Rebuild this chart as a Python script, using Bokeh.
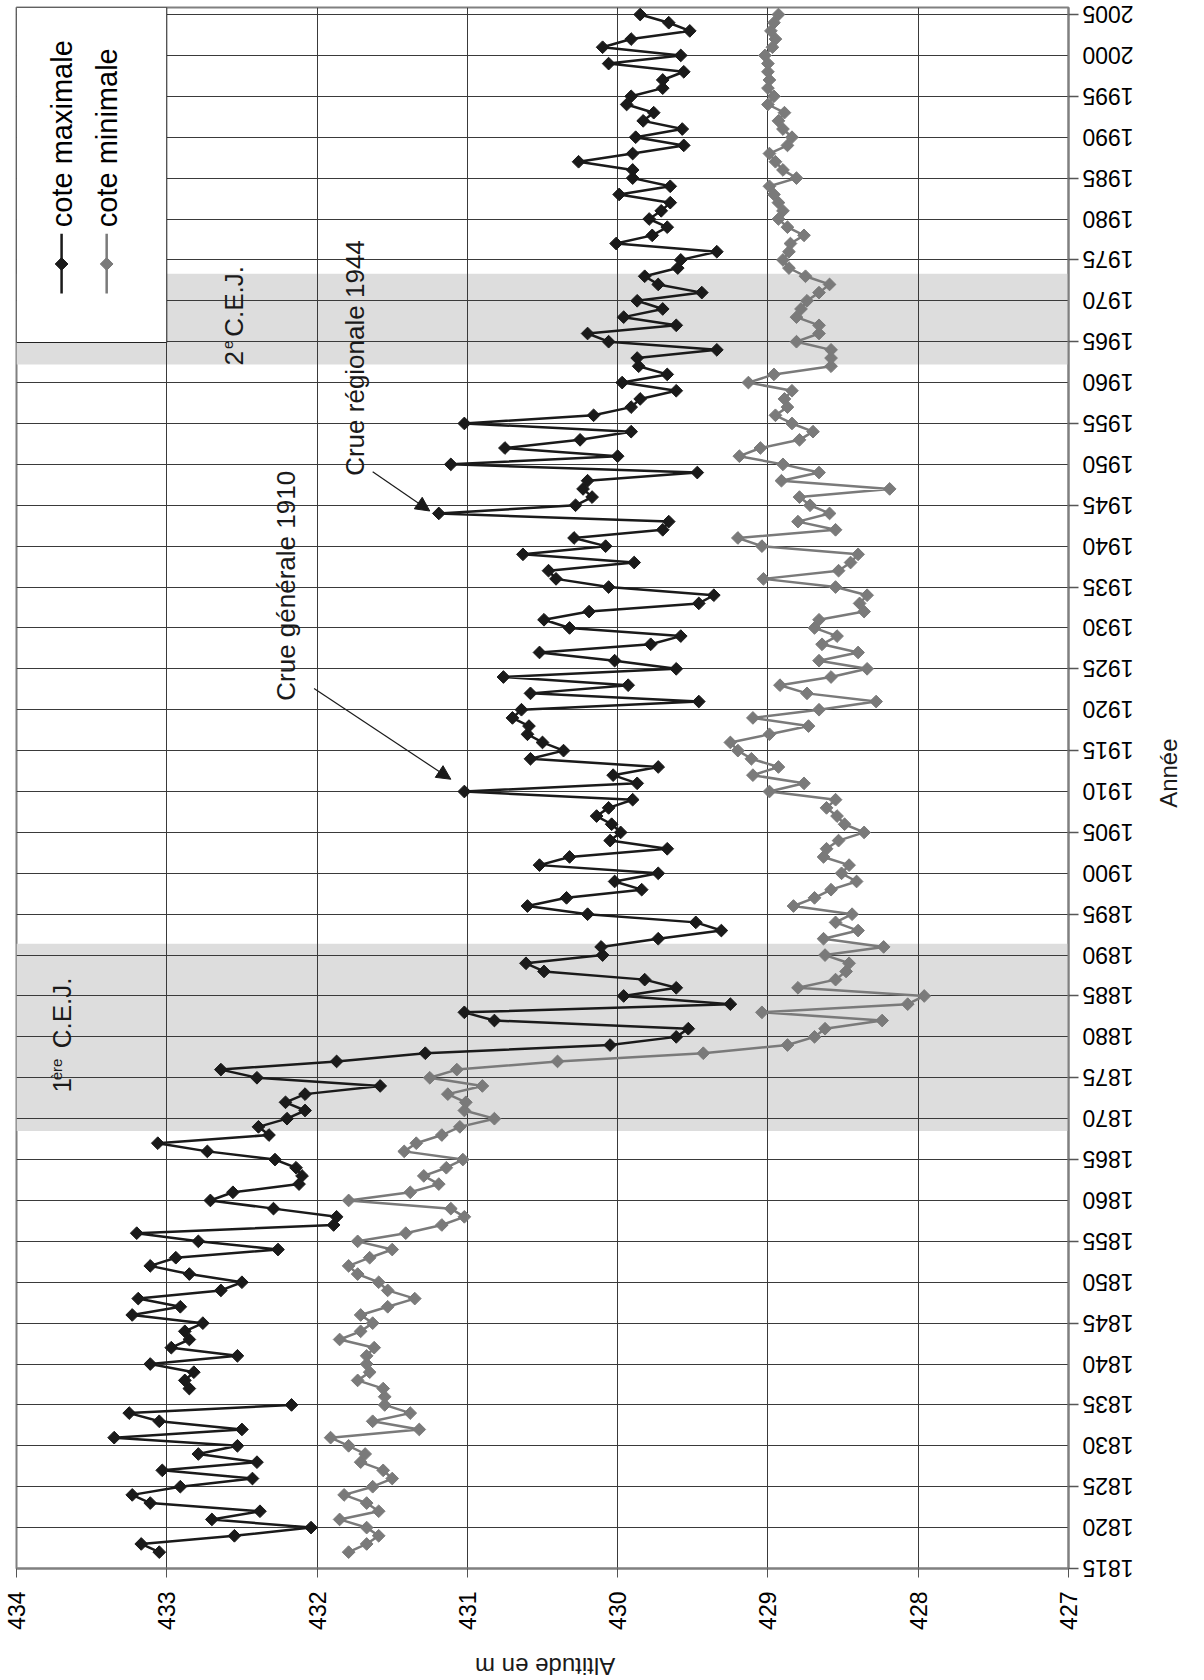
import math
import numpy as np
from bokeh.plotting import figure
from bokeh.layouts import column
from bokeh.models import Range1d, FixedTicker, Label, Arrow, NormalHead, LinearAxis
from bokeh.embed import file_html
from bokeh.resources import INLINE

# ---------------- data ----------------
years = list(range(1817, 2006))

cote_max = [
    433.05, 433.17, 432.55, 432.04, 432.70, 432.38, 433.11, 433.23, 432.91, 432.43,  # 1817-1826
    433.03, 432.40, 432.79, 432.53, 433.35, 432.50, 433.05, 433.25, 432.17, np.nan,  # 1827-1836
    432.85, 432.88, 432.82, 433.11, 432.53, 432.97, 432.85, 432.88, 432.76, 433.23,  # 1837-1846
    432.91, 433.19, 432.64, 432.50, 432.85, 433.11, 432.94, 432.26, 432.79, 433.20,  # 1847-1856
    431.89, 431.87, 432.29, 432.71, 432.56, 432.12, 432.10, 432.14, 432.28, 432.73,  # 1857-1866
    433.06, 432.32, 432.39, 432.20, 432.08, 432.21, 432.08, 431.58, 432.40, 432.64,  # 1867-1876
    431.87, 431.28, 430.05, 429.61, 429.53, 430.82, 431.02, 429.25, 429.96, 429.61,  # 1877-1886
    429.82, 430.49, 430.61, 430.10, 430.11, 429.73, 429.31, 429.48, 430.20, 430.60,  # 1887-1896
    430.34, 429.84, 430.02, 429.73, 430.52, 430.32, 429.67, 430.05, 429.98, 430.04,  # 1897-1906
    430.14, 430.06, 429.90, 431.02, 429.87, 430.03, 429.73, 430.58, 430.36, 430.50,  # 1907-1916
    430.60, 430.59, 430.70, 430.64, 429.46, 430.58, 429.93, 430.76, 429.61, 430.02,  # 1917-1926
    430.52, 429.78, 429.58, 430.32, 430.49, 430.19, 429.46, 429.36, 430.06, 430.41,  # 1927-1936
    430.46, 429.89, 430.63, 430.08, 430.29, 429.70, 429.66, 431.19, 430.28, 430.17,  # 1937-1946
    430.23, 430.20, 429.47, 431.11, 430.00, 430.75, 430.25, 429.91, 431.02, 430.16,  # 1947-1956
    429.91, 429.85, 429.61, 429.97, 429.67, 429.86, 429.87, 429.34, 430.06, 430.20,  # 1957-1966
    429.61, 429.96, 429.70, 429.87, 429.44, 429.73, 429.82, 429.60, 429.58, 429.34,  # 1967-1976
    430.01, 429.77, 429.67, 429.79, 429.71, 429.65, 429.99, 429.65, 429.90, 429.90,  # 1977-1986
    430.26, 429.90, 429.56, 429.88, 429.57, 429.83, 429.76, 429.94, 429.91, 429.70,  # 1987-1996
    429.70, 429.56, 430.06, 429.58, 430.10, 429.91, 429.52, 429.66, 429.85,          # 1997-2005
]

cote_min = [
    431.79, 431.67, 431.59, 431.67, 431.85, 431.59, 431.67, 431.82, 431.63, 431.50,  # 1817-1826
    431.56, 431.71, 431.68, 431.79, 431.91, 431.32, 431.63, 431.38, 431.55, 431.55,  # 1827-1836
    431.56, 431.73, 431.65, 431.67, 431.67, 431.62, 431.85, 431.71, 431.63, 431.71,  # 1837-1846
    431.53, 431.35, 431.53, 431.59, 431.73, 431.79, 431.65, 431.50, 431.73, 431.41,  # 1847-1856
    431.17, 431.02, 431.11, 431.79, 431.38, 431.19, 431.29, 431.14, 431.03, 431.42,  # 1857-1866
    431.34, 431.17, 431.05, 430.82, 431.02, 431.01, 431.13, 430.90, 431.25, 431.07,  # 1867-1876
    430.40, 429.43, 428.87, 428.69, 428.62, 428.24, 429.04, 428.07, 427.96, 428.80,  # 1877-1886
    428.55, 428.48, 428.46, 428.62, 428.23, 428.63, 428.40, 428.55, 428.44, 428.83,  # 1887-1896
    428.69, 428.58, 428.41, 428.51, 428.46, 428.63, 428.61, 428.53, 428.36, 428.49,  # 1897-1906
    428.54, 428.61, 428.55, 428.99, 428.76, 429.10, 428.93, 429.11, 429.20, 429.25,  # 1907-1916
    428.99, 428.73, 429.10, 428.66, 428.28, 428.74, 428.92, 428.58, 428.34, 428.66,  # 1917-1926
    428.40, 428.64, 428.54, 428.69, 428.66, 428.36, 428.39, 428.34, 428.55, 429.03,  # 1927-1936
    428.53, 428.45, 428.40, 429.04, 429.20, 428.55, 428.80, 428.59, 428.72, 428.79,  # 1937-1946
    428.19, 428.91, 428.66, 428.90, 429.19, 429.05, 428.79, 428.70, 428.84, 428.95,  # 1947-1956
    428.87, 428.89, 428.84, 429.13, 428.96, 428.58, 428.58, 428.58, 428.81, 428.66,  # 1957-1966
    428.66, 428.81, 428.78, 428.74, 428.66, 428.59, 428.75, 428.86, 428.90, 428.86,  # 1967-1976
    428.85, 428.76, 428.87, 428.93, 428.90, 428.93, 428.96, 428.99, 428.81, 428.90,  # 1977-1986
    428.95, 428.99, 428.87, 428.84, 428.90, 428.93, 428.89, 429.00, 428.96, 429.00,  # 1987-1996
    428.99, 429.00, 429.00, 429.02, 428.97, 428.95, 428.98, 428.96, 428.93,          # 1997-2005
]

altitude_ticks = [427, 428, 429, 430, 431, 432, 433, 434]
year_label_ticks = list(range(1815, 2006, 5))
year_tick_marks = list(range(1815, 2006, 10))

cej_start = [1868.5, 1962.2]
cej_end = [1891.4, 1973.3]

FONT = "Liberation Sans"
BLACK = "#1a1a1a"
GREY = "#7a7a7a"
Y_TOP = 2005.86

# ---------------- main figure ----------------
p = figure(
    width=1200, height=1638,
    x_range=Range1d(434, 427), y_range=Range1d(1815, Y_TOP),
    y_axis_location="right",
    output_backend="svg", toolbar_location=None,
    min_border_left=16, min_border_right=132, min_border_top=7, min_border_bottom=70,
)
p.background_fill_color = "white"
p.border_fill_color = "white"
p.outline_line_color = "#808080"
p.outline_line_width = 2

# grey bands (C.E.J. periods) below the grid
p.quad(left=434, right=427, bottom=cej_start, top=cej_end,
       fill_color="#dddddd", line_color=None, level="image")

# bottom axis: altitude
p.xaxis.ticker = FixedTicker(ticks=altitude_ticks)
p.xaxis.major_label_orientation = math.pi / 2
p.xaxis.major_tick_out = 9
p.xaxis.major_tick_in = 0
p.xaxis.major_label_standoff = 14
p.xaxis.axis_line_color = "#808080"
p.xaxis.axis_line_width = 2
p.xaxis.major_tick_line_color = "#555555"
p.xaxis.major_label_text_font = FONT
p.xaxis.major_label_text_font_size = "23px"
p.xaxis.major_label_text_color = "black"

# right axis: years (labels upside down)
p.yaxis.ticker = FixedTicker(ticks=year_label_ticks, minor_ticks=year_tick_marks)
p.yaxis.major_label_orientation = math.pi
p.yaxis.major_tick_out = 0
p.yaxis.major_tick_in = 0
p.yaxis.minor_tick_out = 10
p.yaxis.minor_tick_in = 0
p.yaxis.minor_tick_line_color = "#555555"
p.yaxis.minor_tick_line_width = 1.5
p.yaxis.major_label_standoff = 55
p.yaxis.axis_line_color = "#808080"
p.yaxis.axis_line_width = 2
p.yaxis.major_label_text_font = FONT
p.yaxis.major_label_text_font_size = "23px"
p.yaxis.major_label_text_color = "black"

# axis title "Année" (second right axis carrying a single label)
annee_axis = LinearAxis(
    ticker=FixedTicker(ticks=[1908]),
    major_label_overrides={1908: "Année"},
    major_label_orientation=math.pi / 2,
    axis_line_color=None, major_tick_line_color=None, minor_tick_line_color=None,
    major_label_text_font=FONT, major_label_text_font_size="24px",
    major_label_text_color="#1a1a1a",
)
try:
    annee_axis.major_label_standoff = -25
except ValueError:
    annee_axis.major_label_standoff = 0
p.add_layout(annee_axis, "right")

p.xgrid.grid_line_color = "#3a3a3a"
p.xgrid.grid_line_width = 1
p.ygrid.grid_line_color = "#3a3a3a"
p.ygrid.grid_line_width = 1

# series (x = altitude, y = year)
p.line(cote_max, years, line_color=BLACK, line_width=2.5)
p.scatter(cote_max, years, marker="square", angle=math.pi / 4, size=9,
          fill_color=BLACK, line_color=BLACK)
p.line(cote_min, years, line_color=GREY, line_width=2.5)
p.scatter(cote_min, years, marker="square", angle=math.pi / 4, size=9,
          fill_color=GREY, line_color=GREY)

# legend box (drawn manually, rotated text)
p.quad(left=434, right=433, bottom=1964.9, top=Y_TOP,
       fill_color="white", line_color="#222222", line_width=1)
for xpos, col, txt in [(433.70, BLACK, "cote maximale"), (433.40, GREY, "cote minimale")]:
    p.line([xpos, xpos], [1970.9, 1978.2], line_color=col, line_width=2.5)
    p.scatter([xpos], [1974.5], marker="square", angle=math.pi / 4, size=9,
              fill_color=col, line_color=col)
    p.add_layout(Label(x=xpos, y=1979.0, text=txt, angle=math.pi / 2,
                       text_align="left", text_baseline="middle",
                       text_font=FONT, text_font_size="29px", text_color="black"))


def lab(x, y, text, size="26px", angle=math.pi / 2, align="left"):
    p.add_layout(Label(x=x, y=y, text=text, angle=angle, text_align=align,
                       text_baseline="middle", text_font=FONT,
                       text_font_size=size, text_color="#1a1a1a"))


# C.E.J. labels
lab(433.70, 1873.2, "1")
lab(433.735, 1874.7, "ère", size="15px")
lab(433.70, 1878.6, "C.E.J.")
lab(432.55, 1962.1, "2")
lab(432.59, 1964.1, "e", size="15px")
lab(432.55, 1965.6, "C.E.J.")

# flood annotations
lab(432.21, 1921.1, "Crue générale 1910")
lab(431.75, 1948.6, "Crue régionale 1944")
p.add_layout(Arrow(x_start=432.02, y_start=1922.6, x_end=431.11, y_end=1911.5,
                   line_color="#1a1a1a", line_width=1.2,
                   end=NormalHead(size=14, fill_color="#1a1a1a", line_color="#1a1a1a")))
p.add_layout(Arrow(x_start=431.63, y_start=1949.1, x_end=431.25, y_end=1944.3,
                   line_color="#1a1a1a", line_width=1.2,
                   end=NormalHead(size=14, fill_color="#1a1a1a", line_color="#1a1a1a")))

# ---------------- strip below for the altitude title ----------------
p2 = figure(
    width=1200, height=42,
    x_range=Range1d(0, 1200), y_range=Range1d(0, 42),
    x_axis_location=None, y_axis_location=None,
    output_backend="svg", toolbar_location=None,
    min_border=0,
)
p2.outline_line_color = None
p2.background_fill_color = "white"
p2.border_fill_color = "white"
p2.grid.visible = False
p2.add_layout(Label(x=603, y=14, text="Altitude en m", angle=math.pi,
                    text_align="center", text_baseline="middle",
                    text_font=FONT, text_font_size="24px", text_color="#1a1a1a"))

open("out.html", "w").write(file_html(column(p, p2), INLINE))
